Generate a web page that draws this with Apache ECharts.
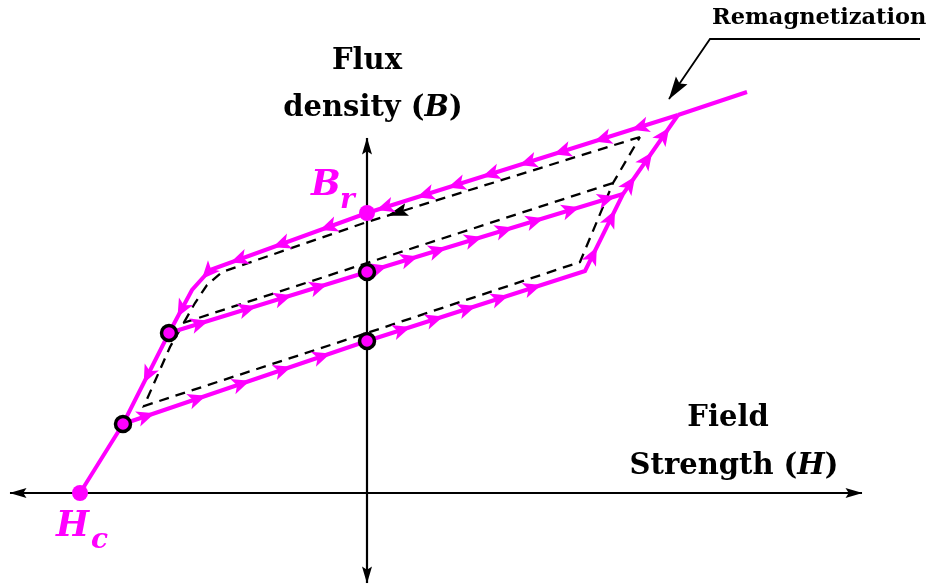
<!DOCTYPE html>
<html><head><meta charset="utf-8">
<script src="https://cdn.jsdelivr.net/npm/echarts@6/dist/echarts.min.js"></script>
<style>html,body{margin:0;padding:0;background:#fff}#c{width:935px;height:586px}</style>
</head><body><div id="c"></div>
<script>
// ---- Data (H to the right, B upward; origin where the axes cross) ----
const hRange = [-367, 568];
const bRange = [-93, 493];
const descendingBranch = [[311,378],[0,280],[-157,223],[-175,203],[-198,160],[-244,69],[-287,0]];
const remagnetization = [[311,378],[380,401]];
const lowerAscending = [[-244,69],[0,152],[218,222],[256,299],[311,378]];
const middleAscending = [[-198,160],[0,221],[256,299]];
const dashedOuter = [[273,356],[0,271],[-145,221],[-160,208],[-172,190],[-197,146],[-223,87],[0,160],[213,231],[246,310],[273,356]];
const dashedMiddle = [[-184,170],[0,230],[246,310]];
// arrow marks: [segment index, fraction along segment]
const descendingArrows = [[0,.15],[0,.27],[0,.4],[0,.51],[0,.63],[0,.74],[0,.84],[0,.97],[1,.3],[1,.6],[1,.87],[2,.45],[3,.63],[4,.55]];
const lowerArrows = [[0,.13],[0,.34],[0,.52],[0,.69],[0,.85],[1,.2],[1,.35],[1,.5],[1,.65],[1,.8],[2,.31],[2,.79],[3,.22],[3,.53],[3,.84]];
const middleArrows = [[0,.2],[0,.44],[0,.62],[0,.8],[1,.08],[1,.2],[1,.31],[1,.45],[1,.57],[1,.69],[1,.83],[1,.97]];
const dashedArrows = [[0,.89]];
const remanencePoint = [[0,280]];
const coercivePoint = [[-287,0]];
const turningPoints = [[-244,69],[-198,160],[0,221],[0,152]];
const hAxisLine = [[-357,0],[495,0]];
const bAxisLine = [[0,355],[0,-90]];
const pointerLine = [[553,454],[343,454],[302,394]];
const labels = { flux:'Flux', density:'density', field:'Field', strength:'Strength', remag:'Remagnetization', B:'B', r:'r', H:'H', c:'c' };

const MAG = '#ff00ff';
const FONT = 'DejaVu Serif';
const chart = echarts.init(document.getElementById('c'));

function lineS(data, color, width, type, z){
  return {type:'line', data, showSymbol:false, symbol:'none', silent:true, animation:false, z,
    lineStyle:{color, width, type: type||'solid', dashOffset:0, cap:'butt', join:'miter', opacity:1}};
}
function marksOn(path, marks){
  return marks.map(([s,t])=>{const a=path[s], b=path[s+1];
    return {pos:[a[0]+(b[0]-a[0])*t, a[1]+(b[1]-a[1])*t], a, b};});
}
// head whose tip sits on point b of segment a->b (back off by half the head length)
function tipAt(a, b, half){
  const dx=b[0]-a[0], dy=b[1]-a[1], L=Math.hypot(dx,dy);
  return {pos:[b[0]-dx/L*half, b[1]-dy/L*half], a, b};
}

chart.setOption({
  animation:false,
  grid:{left:0,right:0,top:0,bottom:0},
  xAxis:{type:'value', min:hRange[0], max:hRange[1], show:false},
  yAxis:{type:'value', min:bRange[0], max:bRange[1], show:false},
  series:[]
});

function rot(a,b){
  const pa = chart.convertToPixel({xAxisIndex:0,yAxisIndex:0}, a);
  const pb = chart.convertToPixel({xAxisIndex:0,yAxisIndex:0}, b);
  return Math.atan2(-(pb[1]-pa[1]), pb[0]-pa[0]) * 180/Math.PI - 90;
}
function arrowSeries(items, color, size, symbol, z){
  return {type:'scatter', silent:true, animation:false, z, symbol: symbol||'arrow', symbolSize:size,
    itemStyle:{color, opacity:1},
    data: items.map(m=>({value:m.pos, symbolRotate: rot(m.a,m.b)}))};
}
const head = 'path://M5,0 L10,16 L5,13 L0,16 Z';
const axisArrows = [
  tipAt(hAxisLine[0], hAxisLine[1], 8),
  tipAt(hAxisLine[1], hAxisLine[0], 8),
  tipAt(bAxisLine[1], bAxisLine[0], 8),
  tipAt(bAxisLine[0], bAxisLine[1], 8)
];
const pointerArrow = [tipAt(pointerLine[1], pointerLine[2], 11)];

const series = [
  lineS(hAxisLine, '#000', 2.2, 'solid', 1),
  lineS(bAxisLine, '#000', 2.2, 'solid', 1),
  arrowSeries(axisArrows, '#000', [10,17], head, 2),
  lineS(dashedOuter, '#000', 2.3, [10,7], 3),
  lineS(dashedMiddle, '#000', 2.3, [10,7], 3),
  arrowSeries(marksOn(dashedOuter, dashedArrows), '#000', [13,21], head, 4),
  lineS(pointerLine, '#000', 1.8, 'solid', 3),
  arrowSeries(pointerArrow, '#000', [14,23], 'path://M5,0 L10,18 L5,15 L0,18 Z', 4),
  lineS(descendingBranch, MAG, 4, 'solid', 5),
  lineS(remagnetization, MAG, 4, 'solid', 5),
  lineS(lowerAscending, MAG, 4, 'solid', 5),
  lineS(middleAscending, MAG, 4, 'solid', 5),
  arrowSeries(marksOn(descendingBranch, descendingArrows), MAG, [12,18], 'arrow', 6),
  arrowSeries(marksOn(lowerAscending, lowerArrows), MAG, [12,18], 'arrow', 6),
  arrowSeries(marksOn(middleAscending, middleArrows), MAG, [12,18], 'arrow', 6),
  {type:'scatter', silent:true, z:7, symbol:'circle', symbolSize:16, itemStyle:{color:MAG, opacity:1}, data:remanencePoint.concat(coercivePoint)},
  {type:'scatter', silent:true, z:7, symbol:'circle', symbolSize:15, itemStyle:{color:MAG, borderColor:'#000', borderWidth:3.5, opacity:1}, data:turningPoints}
];

const txt = (x,y,text,size,opts)=>({type:'text', x, y, silent:true, z:10,
  style:Object.assign({text, fontFamily:FONT, fontWeight:'bold', fontSize:size, fill:'#000', align:'center', verticalAlign:'middle'}, opts||{})});
const rich = {
  n:{fontFamily:FONT, fontWeight:'bold', fontSize:29, fill:'#000'},
  i:{fontFamily:FONT, fontWeight:'bold', fontStyle:'italic', fontSize:29, fill:'#000'}
};
const graphic = [
  txt(367, 61, labels.flux, 29),
  {type:'text', x:373, y:108, silent:true, z:10, style:{text:'{n|'+labels.density+' (}{i|B}{n|)}', rich, align:'center', verticalAlign:'middle', fontSize:29, fontFamily:FONT}},
  txt(728, 418, labels.field, 29),
  {type:'text', x:734, y:466, silent:true, z:10, style:{text:'{n|'+labels.strength+' (}{i|H}{n|)}', rich, align:'center', verticalAlign:'middle', fontSize:29, fontFamily:FONT}},
  txt(712, 18, labels.remag, 22.5, {align:'left'}),
  txt(311, 186, labels.B, 35, {align:'left', fill:MAG, fontStyle:'italic'}),
  txt(340, 201, labels.r, 28, {align:'left', fill:MAG, fontStyle:'italic'}),
  txt(56, 527, labels.H, 35, {align:'left', fill:MAG, fontStyle:'italic'}),
  txt(91, 541, labels.c, 28, {align:'left', fill:MAG, fontStyle:'italic'})
];

chart.setOption({series, graphic});
</script>
</body></html>
